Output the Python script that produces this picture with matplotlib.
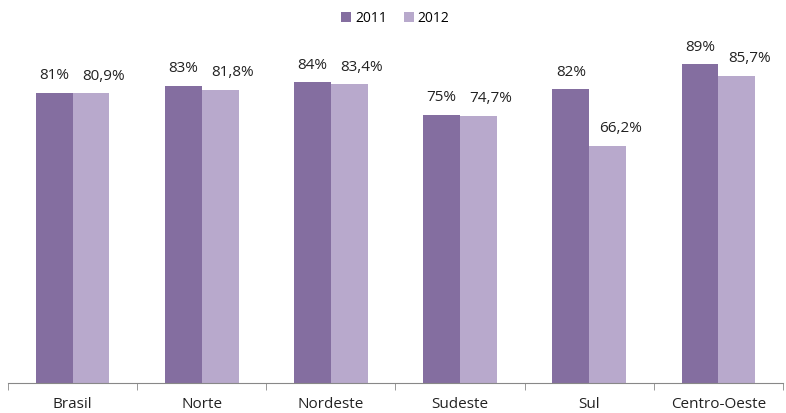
import numpy as np
import matplotlib
matplotlib.use('Agg')
import matplotlib.pyplot as plt

# dados
regioes = ['Brasil', 'Norte', 'Nordeste', 'Sudeste', 'Sul', 'Centro-Oeste']
v2011 = [81, 83, 84, 75, 82, 89]
v2012 = [80.9, 81.8, 83.4, 74.7, 66.2, 85.7]
rot2011 = ['81%', '83%', '84%', '75%', '82%', '89%']
rot2012 = ['80,9%', '81,8%', '83,4%', '74,7%', '66,2%', '85,7%']

cor2011 = '#846ea0'
cor2012 = '#b8a9cc'

plt.rcParams['font.family'] = ['Open Sans', 'DejaVu Sans']

fig = plt.figure(figsize=(7.86, 4.13), dpi=100)
ax = fig.add_axes([8 / 786, 30 / 413, 775 / 786, 358 / 413])

x = np.arange(len(regioes))
w = 0.285
b1 = ax.bar(x - w / 2, v2011, w, color=cor2011, label='2011')
b2 = ax.bar(x + w / 2, v2012, w, color=cor2012, label='2012')

# rótulos de 2012 ficam um pouco deslocados para a direita, como no original
for rect, txt in zip(b1, rot2011):
    ax.annotate(txt, (rect.get_x() + rect.get_width() / 2, rect.get_height()),
                xytext=(0, 7), textcoords='offset points', ha='center',
                va='bottom', fontsize=11, color='#222222')
for rect, txt in zip(b2, rot2012):
    ax.annotate(txt, (rect.get_x() + rect.get_width() / 2, rect.get_height()),
                xytext=(9, 7), textcoords='offset points', ha='center',
                va='bottom', fontsize=11, color='#222222')

ax.set_xlim(-0.5, len(regioes) - 0.5)
ax.set_ylim(0, 100)
ax.set_xticks(x)
ax.set_xticklabels(regioes, fontsize=11, color='#222222')
ax.tick_params(axis='x', which='major', length=0, pad=10)
ax.set_xticks(np.arange(-0.5, len(regioes)), minor=True)
ax.tick_params(axis='x', which='minor', length=5, color='#888888', direction='out')
ax.set_yticks([])
for s in ['top', 'right', 'left']:
    ax.spines[s].set_visible(False)
ax.spines['bottom'].set_color('#888888')

ax.legend(loc='center', bbox_to_anchor=(0.5, 1 + 7 / 358), ncol=2, frameon=False,
          fontsize=10, handlelength=0.7, handleheight=0.7, handletextpad=0.3,
          columnspacing=1.2, borderpad=0)

fig.savefig('out.png', dpi=100)
